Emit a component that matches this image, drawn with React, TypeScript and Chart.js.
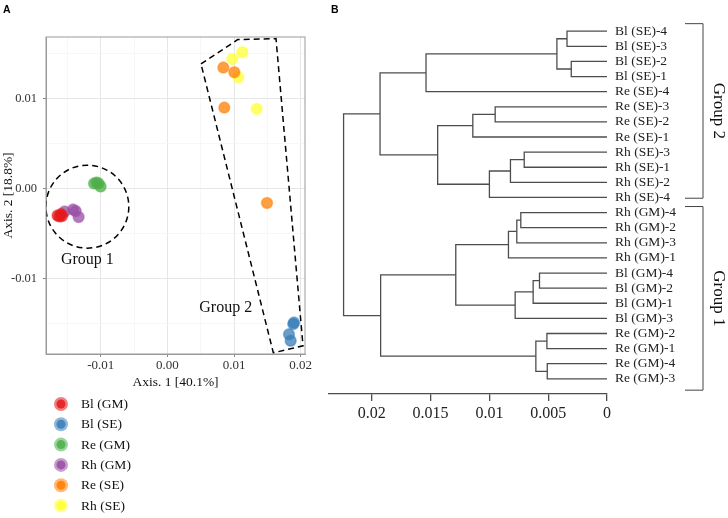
import React, { useEffect, useRef } from 'react';
import { Chart, registerables } from 'chart.js';

Chart.register(...registerables);

const SERIF = '"Liberation Serif", "Times New Roman", Times, serif';
const SANS = '"Liberation Sans", Arial, Helvetica, sans-serif';

// ---------------- Panel A: PCoA ----------------
const groupNames = ['Bl (GM)', 'Bl (SE)', 'Re (GM)', 'Rh (GM)', 'Re (SE)', 'Rh (SE)'];
const groupColors = ['#E41A1C', '#377EB8', '#4DAF4A', '#984EA3', '#FF7F00', '#FFFF33'];

const blGM = [[-0.01646, -0.00302], [-0.01616, -0.00313], [-0.01594, -0.00286], [-0.01579, -0.00308]];
const blSE = [[0.01889, -0.01508], [0.019, -0.01491], [0.01825, -0.01622], [0.0185, -0.01693]];
const reGM = [[-0.01099, 0.00053], [-0.01061, 0.00064], [-0.01031, 0.00053], [-0.01001, 0.0002]];
const rhGM = [[-0.01541, -0.00258], [-0.01414, -0.00236], [-0.01376, -0.00252], [-0.01331, -0.00319]];
const reSE = [[0.0084, 0.0134], [0.01005, 0.01289], [0.00855, 0.00896], [0.01495, -0.00163]];
const rhSE = [[0.01124, 0.01511], [0.00975, 0.01437], [0.01064, 0.01233], [0.0134, 0.00881]];
const groupPoints = [blGM, blSE, reGM, rhGM, reSE, rhSE];

const pcoaXTicks = [-0.015, -0.01, -0.005, 0, 0.005, 0.01, 0.015, 0.02];
const pcoaXLabels = ['', '-0.01', '', '0.00', '', '0.01', '', '0.02'];
const pcoaYTicks = [-0.015, -0.01, -0.005, 0, 0.005, 0.01, 0.015];
const pcoaYLabels = ['', '-0.01', '', '0.00', '', '0.01', ''];

// Group 2 hull (dashed polygon) vertices
const group2Hull = [[0.00505, 0.01381], [0.01055, 0.01651], [0.0163, 0.01662], [0.02035, -0.01749], [0.0159, -0.01827], [0.00505, 0.01381]];
// Group 1 circle: center and radius (x units)
const group1Circle = [-0.012, -0.00204, 0.00622];
const pcoaGroupLabels = ['Group 1', 'Group 2'];
const pcoaGroupLabelPos = [[-0.012, -0.0079], [0.00876, -0.01322]];

// ---------------- Panel B: dendrogram ----------------
const leafLabels = [
  'Bl (SE)-4', 'Bl (SE)-3', 'Bl (SE)-2', 'Bl (SE)-1', 'Re (SE)-4', 'Re (SE)-3', 'Re (SE)-2', 'Re (SE)-1',
  'Rh (SE)-3', 'Rh (SE)-1', 'Rh (SE)-2', 'Rh (SE)-4', 'Rh (GM)-4', 'Rh (GM)-2', 'Rh (GM)-3', 'Rh (GM)-1',
  'Bl (GM)-4', 'Bl (GM)-2', 'Bl (GM)-1', 'Bl (GM)-3', 'Re (GM)-2', 'Re (GM)-1', 'Re (GM)-4', 'Re (GM)-3',
];
// merge steps: [nodeA, nodeB, height]; merged nodes are named m0, m1, ...
const mergeSteps: [string, string, number][] = [
  ['Bl (SE)-4', 'Bl (SE)-3', 0.0034], // m0
  ['Bl (SE)-2', 'Bl (SE)-1', 0.00304], // m1
  ['m0', 'm1', 0.00426], // m2
  ['m2', 'Re (SE)-4', 0.01539], // m3
  ['Re (SE)-3', 'Re (SE)-2', 0.00951], // m4
  ['m4', 'Re (SE)-1', 0.01141], // m5
  ['Rh (SE)-3', 'Rh (SE)-1', 0.00704], // m6
  ['m6', 'Rh (SE)-2', 0.00821], // m7
  ['m7', 'Rh (SE)-4', 0.01], // m8
  ['m5', 'm8', 0.0144], // m9
  ['m3', 'm9', 0.0193], // m10
  ['Rh (GM)-4', 'Rh (GM)-2', 0.00733], // m11
  ['m11', 'Rh (GM)-3', 0.00767], // m12
  ['m12', 'Rh (GM)-1', 0.00838], // m13
  ['Bl (GM)-4', 'Bl (GM)-2', 0.00574], // m14
  ['m14', 'Bl (GM)-1', 0.00628], // m15
  ['m15', 'Bl (GM)-3', 0.00781], // m16
  ['m13', 'm16', 0.01286], // m17
  ['Re (GM)-2', 'Re (GM)-1', 0.00511], // m18
  ['Re (GM)-4', 'Re (GM)-3', 0.00508], // m19
  ['m18', 'm19', 0.00605], // m20
  ['m17', 'm20', 0.01925], // m21
  ['m10', 'm21', 0.0224], // m22
];
const distTicks = [0, 0.005, 0.01, 0.015, 0.02];
const distTickLabels = ['0', '0.005', '0.01', '0.015', '0.02'];
const cladeNames = ['Group 2', 'Group 1'];
const cladeStart = [-0.5, 11.6];
const cladeEnd = [11.05, 23.75];

function rgba(hex: string, a: number) {
  const n = parseInt(hex.slice(1), 16);
  return `rgba(${(n >> 16) & 255},${(n >> 8) & 255},${n & 255},${a})`;
}
const isMajor = (v: number) => Math.abs(v * 100 - Math.round(v * 100)) < 1e-6;

function buildSegments() {
  const nodes: Record<string, { pos: number; h: number }> = {};
  leafLabels.forEach((l, i) => (nodes[l] = { pos: i, h: 0 }));
  const segs: { x: number; y: number }[][] = [];
  mergeSteps.forEach(([a, b, h], k) => {
    const na = nodes[a];
    const nb = nodes[b];
    segs.push([
      { x: na.h, y: na.pos },
      { x: h, y: na.pos },
      { x: h, y: nb.pos },
      { x: nb.h, y: nb.pos },
    ]);
    nodes['m' + k] = { pos: (na.pos + nb.pos) / 2, h };
  });
  return segs;
}

const pcoaDecor = {
  id: 'pcoaDecor',
  beforeDatasetsDraw(chart: any) {
    const { ctx, chartArea: ca, scales } = chart;
    const xs = scales.x, ys = scales.y;
    ctx.save();
    ctx.beginPath();
    ctx.rect(ca.left, ca.top, ca.right - ca.left, ca.bottom - ca.top);
    ctx.clip();
    const cx = xs.getPixelForValue(group1Circle[0]);
    const cy = ys.getPixelForValue(group1Circle[1]);
    const r = Math.abs(xs.getPixelForValue(group1Circle[0] + group1Circle[2]) - cx);
    ctx.beginPath();
    ctx.setLineDash([6, 4]);
    ctx.lineWidth = 1.5;
    ctx.strokeStyle = '#000';
    ctx.arc(cx, cy, r, 0, Math.PI * 2);
    ctx.stroke();
    ctx.restore();
  },
  afterDraw(chart: any) {
    const { ctx, chartArea: ca, scales } = chart;
    const xs = scales.x, ys = scales.y;
    ctx.save();
    // panel border
    ctx.strokeStyle = '#9a9a9a';
    ctx.lineWidth = 1;
    ctx.strokeRect(ca.left, ca.top, ca.right - ca.left, ca.bottom - ca.top);
    // group labels
    ctx.fillStyle = '#111';
    ctx.font = `16px ${SERIF}`;
    ctx.textAlign = 'center';
    ctx.textBaseline = 'middle';
    pcoaGroupLabels.forEach((t, i) => {
      ctx.fillText(t, xs.getPixelForValue(pcoaGroupLabelPos[i][0]), ys.getPixelForValue(pcoaGroupLabelPos[i][1]));
    });
    // legend
    const lx = ca.left + 15;
    const ly = ca.bottom + 50;
    groupNames.forEach((name, i) => {
      const y = ly + i * 20.3;
      const c = groupColors[i];
      ctx.beginPath();
      ctx.fillStyle = rgba(c, 0.55);
      ctx.arc(lx, y, 7, 0, Math.PI * 2);
      ctx.fill();
      ctx.beginPath();
      ctx.fillStyle = rgba(c, 0.85);
      ctx.arc(lx, y, 4.5, 0, Math.PI * 2);
      ctx.fill();
      ctx.fillStyle = '#111';
      ctx.font = `13.5px ${SERIF}`;
      ctx.textAlign = 'left';
      ctx.fillText(name, lx + 20, y + 0.5);
    });
    // panel letter
    ctx.font = `bold 10.5px ${SANS}`;
    ctx.textBaseline = 'alphabetic';
    ctx.fillStyle = '#000';
    ctx.fillText('A', 3, 12.5);
    ctx.restore();
  },
};

const dendroDecor = {
  id: 'dendroDecor',
  afterDraw(chart: any) {
    const { ctx, chartArea: ca, scales } = chart;
    const ys = scales.y;
    ctx.save();
    const x1 = ca.right + 78;
    const x2 = x1 + 18;
    ctx.strokeStyle = '#444';
    ctx.lineWidth = 1;
    cladeNames.forEach((name, g) => {
      const y1 = ys.getPixelForValue(cladeStart[g]);
      const y2 = ys.getPixelForValue(cladeEnd[g]);
      ctx.beginPath();
      ctx.moveTo(x1, y1);
      ctx.lineTo(x2, y1);
      ctx.lineTo(x2, y2);
      ctx.lineTo(x1, y2);
      ctx.stroke();
      ctx.save();
      ctx.translate(x2 + 15, (y1 + y2) / 2);
      ctx.rotate(Math.PI / 2);
      ctx.font = `17px ${SERIF}`;
      ctx.fillStyle = '#111';
      ctx.textAlign = 'center';
      ctx.textBaseline = 'middle';
      ctx.fillText(name, 0, 0);
      ctx.restore();
    });
    ctx.font = `bold 10.5px ${SANS}`;
    ctx.fillStyle = '#000';
    ctx.textAlign = 'left';
    ctx.textBaseline = 'alphabetic';
    ctx.fillText('B', 11, 12.5);
    ctx.restore();
  },
};

export default function App() {
  const refA = useRef<HTMLCanvasElement>(null);
  const refB = useRef<HTMLCanvasElement>(null);

  useEffect(() => {
    const chartA = new Chart(refA.current as HTMLCanvasElement, {
      type: 'scatter',
      data: {
        datasets: [
          ...groupPoints.map((pts, i) => ({
            label: groupNames[i],
            data: pts.map(([x, y]) => ({ x, y })),
            backgroundColor: rgba(groupColors[i], 0.75),
            borderColor: rgba(groupColors[i], 0.45),
            borderWidth: 1.5,
            pointRadius: 5.5,
            pointHoverRadius: 5.5,
            order: 1,
          })),
          {
            label: 'hull',
            data: group2Hull.map(([x, y]) => ({ x, y })),
            showLine: true,
            borderColor: '#000',
            borderDash: [6, 4],
            borderWidth: 1.5,
            pointRadius: 0,
            fill: false,
            order: 0,
          } as any,
        ],
      },
      options: {
        responsive: false,
        animation: false,
        events: [],
        layout: { padding: { left: 0, top: 37, right: 15, bottom: 127 } },
        plugins: { legend: { display: false }, tooltip: { enabled: false } },
        scales: {
          x: {
            type: 'linear',
            min: -0.0182,
            max: 0.02065,
            afterBuildTicks: (s: any) => {
              s.ticks = pcoaXTicks.map((v) => ({ value: v }));
            },
            afterFit: (s: any) => {
              s.height = 37;
            },
            ticks: {
              autoSkip: false,
              maxRotation: 0,
              padding: 1,
              color: '#333',
              font: { family: SERIF, size: 13 },
              callback: (v: any) => pcoaXLabels[pcoaXTicks.findIndex((t) => Math.abs(t - v) < 1e-9)] ?? '',
            },
            grid: {
              color: (c: any) => (isMajor(c.tick.value) ? '#e6e6e6' : '#f3f3f3'),
              lineWidth: (c: any) => (isMajor(c.tick.value) ? 1 : 0.7),
              tickLength: 3,
              tickColor: (c: any) => (isMajor(c.tick.value) ? '#888' : 'rgba(0,0,0,0)'),
            },
            border: { color: '#9a9a9a' },
            title: { display: true, text: 'Axis. 1 [40.1%]', color: '#111', padding: 0, font: { family: SERIF, size: 13.5 } },
          },
          y: {
            type: 'linear',
            min: -0.0184,
            max: 0.0168,
            afterBuildTicks: (s: any) => {
              s.ticks = pcoaYTicks.map((v) => ({ value: v }));
            },
            afterFit: (s: any) => {
              s.width = 46;
            },
            ticks: {
              autoSkip: false,
              padding: 6,
              color: '#333',
              font: { family: SERIF, size: 12.5 },
              callback: (v: any) => pcoaYLabels[pcoaYTicks.findIndex((t) => Math.abs(t - v) < 1e-9)] ?? '',
            },
            grid: {
              color: (c: any) => (isMajor(c.tick.value) ? '#e6e6e6' : '#f3f3f3'),
              lineWidth: (c: any) => (isMajor(c.tick.value) ? 1 : 0.7),
              tickLength: 3,
              tickColor: (c: any) => (isMajor(c.tick.value) ? '#888' : 'rgba(0,0,0,0)'),
            },
            border: { color: '#9a9a9a' },
            title: { display: true, text: 'Axis. 2 [18.8%]', color: '#111', padding: 0, font: { family: SERIF, size: 13.5 } },
          },
        },
      } as any,
      plugins: [pcoaDecor],
    });

    const segments = buildSegments();
    const chartB = new Chart(refB.current as HTMLCanvasElement, {
      type: 'scatter',
      data: {
        datasets: segments.map((seg) => ({
          data: seg,
          showLine: true,
          borderColor: '#4d4d4d',
          borderWidth: 1.3,
          pointRadius: 0,
          fill: false,
          tension: 0,
        })) as any,
      },
      options: {
        responsive: false,
        animation: false,
        events: [],
        layout: { padding: { left: 8.3, top: 2.65, right: 43, bottom: 84.05 } },
        plugins: { legend: { display: false }, tooltip: { enabled: false } },
        scales: {
          x: {
            type: 'linear',
            reverse: true,
            min: 0,
            max: 0.0237,
            afterBuildTicks: (s: any) => {
              s.ticks = distTicks.map((v) => ({ value: v }));
            },
            afterFit: (s: any) => {
              s.height = 40;
            },
            ticks: {
              autoSkip: false,
              maxRotation: 0,
              padding: 3,
              color: '#222',
              font: { family: SERIF, size: 16 },
              callback: (v: any) => distTickLabels[distTicks.findIndex((t) => Math.abs(t - v) < 1e-9)] ?? '',
            },
            grid: { drawOnChartArea: false, tickLength: 7, tickColor: '#4d4d4d', lineWidth: 1.3 },
            border: { color: '#4d4d4d', width: 1.3 },
          },
          y: {
            type: 'linear',
            position: 'right',
            reverse: true,
            min: -1,
            max: 24,
            afterBuildTicks: (s: any) => {
              s.ticks = leafLabels.map((_, i) => ({ value: i }));
            },
            afterFit: (s: any) => {
              s.width = 78;
            },
            ticks: {
              autoSkip: false,
              padding: 8,
              color: '#222',
              font: { family: SERIF, size: 13.5 },
              callback: (v: any) => leafLabels[Math.round(v)] ?? '',
            },
            grid: { display: false, drawTicks: false },
            border: { display: false },
          },
        },
      } as any,
      plugins: [dendroDecor],
    });

    return () => {
      chartA.destroy();
      chartB.destroy();
    };
  }, []);

  return (
    <div style={{ position: 'absolute', left: 0, top: 0, width: 728, height: 518, background: '#fff' }}>
      <canvas ref={refA} width={320} height={518} style={{ position: 'absolute', left: 0, top: 0, width: 320, height: 518 }} />
      <canvas ref={refB} width={408} height={518} style={{ position: 'absolute', left: 320, top: 0, width: 408, height: 518 }} />
    </div>
  );
}
